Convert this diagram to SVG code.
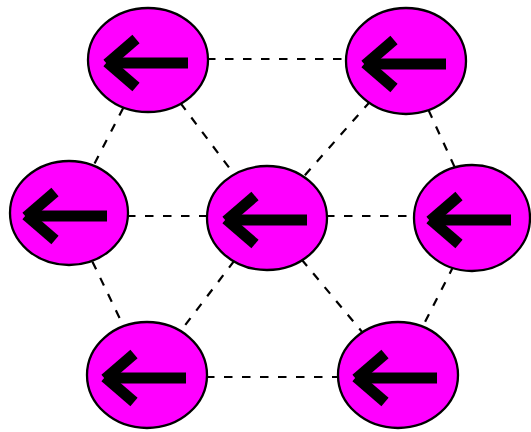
<svg xmlns="http://www.w3.org/2000/svg" width="531" height="432" viewBox="0 0 531 432">
<style>
.edge{stroke:#000;stroke-width:2.2;stroke-dasharray:8.5 9.5;fill:none}
.node ellipse{fill:#ff00ff;stroke:#000;stroke-width:2.3}
.arrow{stroke:#000;stroke-width:11;fill:none;stroke-linecap:butt}
</style>
<defs>
<g id="arr" class="arrow">
<line x1="-40" y1="3" x2="40" y2="3"/>
<line x1="-41" y1="4" x2="-12" y2="-21"/>
<line x1="-41" y1="2" x2="-12" y2="27"/>
</g>
</defs>
<rect width="531" height="432" fill="#fff"/>
<g id="connectors">
<line class="edge" x1="207" y1="59" x2="347" y2="59"/>
<line class="edge" x1="148" y1="60" x2="69" y2="213"/>
<line class="edge" x1="148" y1="60" x2="267" y2="218"/>
<line class="edge" x1="406" y1="61" x2="267" y2="218"/>
<line class="edge" x1="406" y1="61" x2="478" y2="218"/>
<line class="edge" x1="127" y1="216" x2="208" y2="216"/>
<line class="edge" x1="326" y1="216" x2="415" y2="216"/>
<line class="edge" x1="69" y1="213" x2="147" y2="375"/>
<line class="edge" x1="267" y1="218" x2="147" y2="375"/>
<line class="edge" x1="267" y1="218" x2="398" y2="375"/>
<line class="edge" x1="478" y1="218" x2="398" y2="375"/>
<line class="edge" x1="206" y1="377" x2="339" y2="377"/>
</g>
<g id="n1" class="node"><ellipse cx="148" cy="60" rx="60" ry="52"/><use href="#arr" x="148" y="60"/></g>
<g id="n2" class="node"><ellipse cx="406" cy="61" rx="60" ry="53"/><use href="#arr" x="406" y="61"/></g>
<g id="n3" class="node"><ellipse cx="69" cy="213" rx="59" ry="52"/><use href="#arr" x="67" y="213"/></g>
<g id="n4" class="node"><ellipse cx="267" cy="218" rx="60" ry="52"/><use href="#arr" x="267" y="217"/></g>
<g id="n5" class="node"><ellipse cx="472" cy="218" rx="58" ry="53"/><use href="#arr" x="471" y="217"/></g>
<g id="n6" class="node"><ellipse cx="147" cy="375" rx="60" ry="53"/><use href="#arr" x="146" y="375"/></g>
<g id="n7" class="node"><ellipse cx="398" cy="375" rx="60" ry="53"/><use href="#arr" x="397" y="375"/></g>
</svg>
